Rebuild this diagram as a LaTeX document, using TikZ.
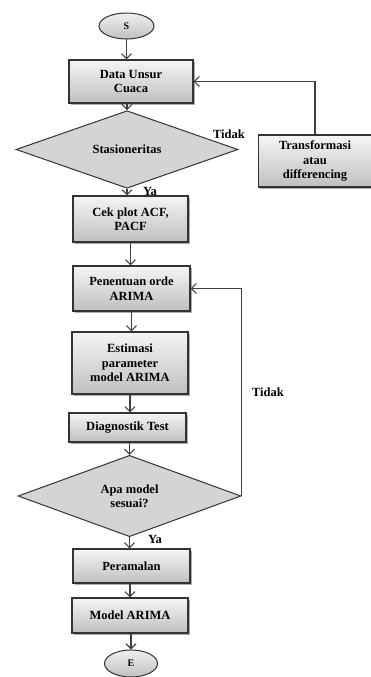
\documentclass[tikz,border=0pt]{standalone}
\usepackage{fontspec}
\setmainfont{Liberation Serif}
\usetikzlibrary{shapes.geometric,arrows.meta,shadows}
\begin{document}
\begin{tikzpicture}[x=1pt,y=-1pt,
  font=\fontsize{12.5}{14.5}\selectfont\bfseries,
  line/.style={draw=black!75, line width=1.1pt},
  arr/.style={line, -{Straight Barb[length=5pt,width=10pt]}},
  box/.style={rectangle, draw=black!80, line width=1.1pt, top color=white!96!black,
    bottom color=black!25, align=center, inner sep=0pt,
    drop shadow={shadow xshift=1.6pt, shadow yshift=-1.6pt, fill=black!55, opacity=0.6}},
  dia/.style={diamond, draw=black!80, line width=1pt, fill=black!17, inner sep=0pt, align=center},
  term/.style={ellipse, draw=black!80, line width=1pt, top color=black!6, bottom color=black!25,
    inner sep=0pt, font=\fontsize{10}{12}\selectfont\bfseries},
  lab/.style={inner sep=0pt}
]
\useasboundingbox (0,0) rectangle (371,677);

\node[term, minimum width=55pt, minimum height=26pt] (S) at (126.5,26) {S};
\node[box, minimum width=124pt, minimum height=43pt] (data) at (131,81.5) {Data Unsur\\Cuaca};
\node[dia, minimum width=222pt, minimum height=55pt] (stas) at (127,149.5) {Stasioneritas};
\node[box, minimum width=113pt, minimum height=52pt] (trans) at (315,161) {Transformasi\\atau\\differencing};
\node[box, minimum width=115pt, minimum height=46pt] (cek) at (130.5,219) {Cek plot ACF,\\PACF};
\node[box, minimum width=117pt, minimum height=45pt] (pen) at (131.5,288.5) {Penentuan orde\\ARIMA};
\node[box, minimum width=116pt, minimum height=62pt] (est) at (130,363) {Estimasi\\parameter\\model ARIMA};
\node[box, minimum width=117pt, minimum height=29pt] (diag) at (127.5,427.5) {Diagnostik Test};
\node[dia, minimum width=223pt, minimum height=74pt] (apa) at (129.5,496) {Apa model\\sesuai?};
\node[box, minimum width=117pt, minimum height=34pt] (per) at (131.5,566) {Peramalan};
\node[box, minimum width=116pt, minimum height=35pt] (model) at (130,615.5) {Model ARIMA};
\node[term, minimum width=53pt, minimum height=27pt] (E) at (131,663.5) {E};

\node[lab] (t1) at (229,134) {Tidak};
\node[lab] (y1) at (150,191) {Ya};
\node[lab] (t2) at (268,392) {Tidak};
\node[lab] (y2) at (155,539) {Ya};

\draw[arr] (S) -- (S |- data.north);
\draw[arr] (stas.north |- data.south) -- (stas.north);
\draw[arr] (stas.south) -- (stas.south |- cek.north);
\draw[arr] (cek) -- (cek |- pen.north);
\draw[arr] (pen) -- (pen |- est.north);
\draw[arr] (est) -- (est |- diag.north);
\draw[arr] (apa.north |- diag.south) -- (apa.north);
\draw[arr] (apa.south) -- (apa.south |- per.north);
\draw[arr] (model.north |- per.south) -- (model.north);
\draw[arr] (E.north |- model.south) -- (E.north);

\draw[arr] (trans.north) |- (data.east);
\draw[arr] (apa.east) |- (pen.east);
\end{tikzpicture}
\end{document}
